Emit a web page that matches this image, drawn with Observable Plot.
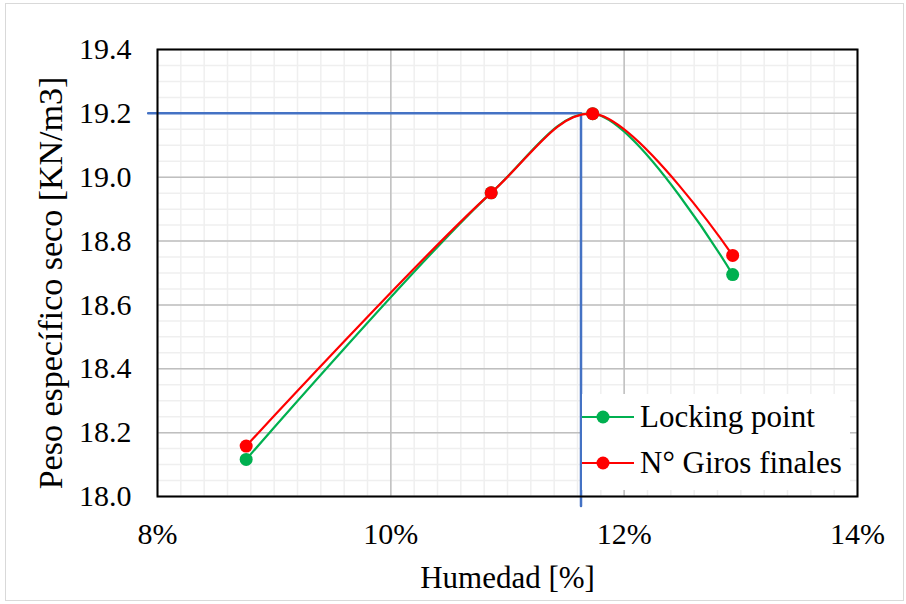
<!DOCTYPE html>
<html><head><meta charset="utf-8">
<script src="https://cdn.jsdelivr.net/npm/d3@7"></script>
<script src="https://cdn.jsdelivr.net/npm/@observablehq/plot@0.6"></script>
<style>
body{margin:0;background:#fff;}
#wrap{position:relative;width:906px;height:604px;font-family:"Liberation Serif","Times New Roman",serif;overflow:hidden;}
#border{position:absolute;left:5px;top:3px;width:899px;height:598px;border:1.5px solid #d9d9d9;box-sizing:border-box;pointer-events:none;}
#legend{position:absolute;left:582px;top:394px;width:268px;height:96px;background:#fff;}
.row{position:absolute;left:0;height:40px;display:flex;align-items:center;font-size:31px;color:#000;white-space:nowrap;}
.row svg{margin-right:6px;}
</style></head>
<body><div id="wrap"><div id="border"></div></div>
<script>
// data
const humedad = [8.76, 10.86, 11.73, 12.93];
const lockingPoint = [18.116, 18.951, 19.199, 18.695];
const girosFinales = [18.158, 18.951, 19.199, 18.755];
const seriesNames = ["Locking point", "N° Giros finales"];
const seriesColors = ["#00B050", "#FF0000"];
const xTicks = [8, 10, 12, 14];
const xTickLabels = ["8%", "10%", "12%", "14%"];
const yTicks = [18.0, 18.2, 18.4, 18.6, 18.8, 19.0, 19.2, 19.4];
const yTickLabels = ["18.0", "18.2", "18.4", "18.6", "18.8", "19.0", "19.2", "19.4"];
const xTitle = "Humedad [%]";
const yTitle = "Peso específico seco [KN/m3]";
const guideX = [7.92, 11.63, 11.63];
const guideY = [19.2, 19.2, 17.97];

const rows = [];
humedad.forEach((h, i) => {
  rows.push({serie: seriesNames[0], x: h, y: lockingPoint[i]});
});
humedad.forEach((h, i) => {
  rows.push({serie: seriesNames[1], x: h, y: girosFinales[i]});
});
const guide = guideX.map((x, i) => ({x, y: guideY[i]}));
const xTickData = xTicks.map((v, i) => ({v, label: xTickLabels[i]}));
const yTickData = yTicks.map((v, i) => ({v, label: yTickLabels[i]}));
const minorX = d3.range(8, 14.0001, 0.2).map(v => +v.toFixed(2));
const minorY = d3.range(18, 19.4001, 0.05).map(v => +v.toFixed(2));

const font = '"Liberation Serif","Times New Roman",serif';
const chart = Plot.plot({
  width: 906, height: 604,
  marginLeft: 157, marginRight: 49, marginTop: 49, marginBottom: 108,
  style: {fontFamily: font, color: "#000", background: "transparent"},
  x: {domain: [8, 14], axis: null},
  y: {domain: [18, 19.4], axis: null},
  marks: [
    Plot.ruleX(minorX, {stroke: "#efefef", strokeWidth: 1.5}),
    Plot.ruleY(minorY, {stroke: "#efefef", strokeWidth: 1.5}),
    Plot.ruleX(xTicks, {stroke: "#bfbfbf", strokeWidth: 1.5}),
    Plot.ruleY(yTicks, {stroke: "#bfbfbf", strokeWidth: 1.5}),
    Plot.text(xTickData, {x: "v", text: "label", frameAnchor: "bottom", dy: 38, fontSize: 30,
      fontFamily: font, textAnchor: "middle", lineAnchor: "middle", fill: "#000"}),
    Plot.text(yTickData, {y: "v", text: "label", frameAnchor: "left", dx: -26, fontSize: 30,
      fontFamily: font, textAnchor: "end", lineAnchor: "middle", fill: "#000"}),
    Plot.text([xTitle], {frameAnchor: "bottom", dy: 82, fontSize: 31,
      fontFamily: font, textAnchor: "middle", lineAnchor: "middle", fill: "#000"}),
    Plot.text([yTitle], {frameAnchor: "left", rotate: -90, dx: -106, dy: 10, fontSize: 34,
      fontFamily: font, textAnchor: "middle", lineAnchor: "middle", fill: "#000"}),
    Plot.line(guide, {x: "x", y: "y", stroke: "#4472C4", strokeWidth: 2.5}),
    Plot.line(rows.filter(d => d.serie === seriesNames[0]), {x: "x", y: "y", stroke: seriesColors[0], strokeWidth: 2.2, curve: "catmull-rom"}),
    Plot.dot(rows.filter(d => d.serie === seriesNames[0]), {x: "x", y: "y", r: 6.5, fill: seriesColors[0]}),
    Plot.line(rows.filter(d => d.serie === seriesNames[1]), {x: "x", y: "y", stroke: seriesColors[1], strokeWidth: 2.2, curve: "catmull-rom"}),
    Plot.dot(rows.filter(d => d.serie === seriesNames[1]), {x: "x", y: "y", r: 6.5, fill: seriesColors[1]}),
    Plot.frame({stroke: "#000", strokeWidth: 2})
  ]
});
chart.style.position = "absolute";
chart.style.left = "0"; chart.style.top = "0";
chart.style.overflow = "visible";
const wrap = document.getElementById("wrap");
wrap.insertBefore(chart, wrap.firstChild);

// legend
const legend = document.createElement("div");
legend.id = "legend";
seriesNames.forEach((name, i) => {
  const row = document.createElement("div");
  row.className = "row";
  row.style.top = (i === 0 ? 3 : 49) + "px";
  row.innerHTML = `<svg width="52" height="20"><line x1="0" y1="10" x2="52" y2="10" stroke="${seriesColors[i]}" stroke-width="2"/><circle cx="21" cy="10" r="6.5" fill="${seriesColors[i]}"/></svg><span>${name}</span>`;
  legend.appendChild(row);
});
wrap.appendChild(legend);
</script></body></html>
